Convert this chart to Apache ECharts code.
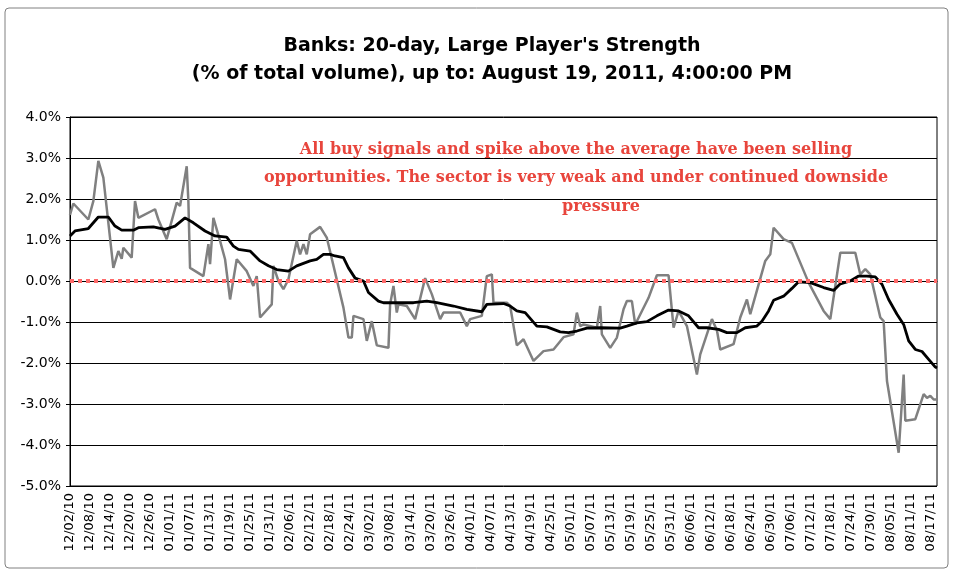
<!DOCTYPE html>
<html>
<head>
<meta charset="utf-8">
<script src="https://cdn.jsdelivr.net/npm/echarts@6/dist/echarts.min.js"></script>
<style>
  html, body { margin: 0; padding: 0; background: #fff; }
  #chart { width: 954px; height: 575px; }
</style>
</head>
<body>
<div id="chart"></div>
<script>
// x labels every 6 calendar days starting 12/02/10 (day 0)
const tickLabels = ['12/02/10', '12/08/10', '12/14/10', '12/20/10', '12/26/10', '01/01/11', '01/07/11',
  '01/13/11', '01/19/11', '01/25/11', '01/31/11', '02/06/11', '02/12/11', '02/18/11', '02/24/11',
  '03/02/11', '03/08/11', '03/14/11', '03/20/11', '03/26/11', '04/01/11', '04/07/11', '04/13/11',
  '04/19/11', '04/25/11', '05/01/11', '05/07/11', '05/13/11', '05/19/11', '05/25/11', '05/31/11',
  '06/06/11', '06/12/11', '06/18/11', '06/24/11', '06/30/11', '07/06/11', '07/12/11', '07/18/11',
  '07/24/11', '07/30/11', '08/05/11', '08/11/11', '08/17/11'];

// large player's strength (gray), day offset from 12/02/10 and % value
const playerDays = [0, 1, 5.5, 7, 8.5, 10, 13, 14.5, 15.5, 16, 18.5, 19.5, 20.5, 25.5, 26.5, 29, 32, 33, 35, 35.5,
  36, 40, 41.5, 42, 43, 45, 46.5, 48, 50, 53, 55, 56, 57, 60.5, 61, 62.5, 64, 65.5, 68, 69,
  70, 71, 72, 75, 77, 82, 83.5, 84.5, 85, 88, 89, 90.5, 92, 95.5, 96, 97, 98, 98.5, 101, 103.5,
  106.5, 108.5, 111, 112, 117, 119, 120, 123.5, 125, 126.5, 127, 131, 132, 134, 136, 139, 142, 145, 148, 151,
  152, 153, 154, 158, 159, 159.5, 162, 164, 166, 167, 168.5, 169.5, 173.5, 176, 179.5, 181, 182.5, 185, 188, 189,
  192.5, 194, 195, 199, 201, 203, 204, 208.5, 210, 211, 214, 216.5, 221.5, 226, 228, 231, 235.5, 237, 238.5, 240,
  243, 244, 245, 248.5, 250, 250.5, 253.5, 256, 257, 258, 259, 260];
const playerValues = [1.61, 1.89, 1.50, 1.95, 2.93, 2.52, 0.32, 0.73, 0.54, 0.81, 0.57, 1.95, 1.54, 1.75, 1.50, 1.02, 1.91, 1.83, 2.80, 1.95,
  0.32, 0.12, 0.90, 0.41, 1.54, 0.98, 0.53, -0.45, 0.53, 0.24, -0.12, 0.12, -0.89, -0.57, 0.37, 0.00, -0.20, 0.04, 0.98, 0.65,
  0.90, 0.65, 1.14, 1.32, 1.06, -0.65, -1.38, -1.38, -0.85, -0.93, -1.46, -0.98, -1.57, -1.63, -0.57, -0.12, -0.77, -0.57, -0.61, -0.93,
  0.07, -0.32, -0.93, -0.77, -0.77, -1.10, -0.93, -0.85, 0.12, 0.16, -0.53, -0.53, -0.61, -1.57, -1.42, -1.95, -1.71, -1.67, -1.37, -1.30,
  -0.77, -1.10, -1.06, -1.14, -0.61, -1.30, -1.63, -1.38, -0.69, -0.49, -0.49, -1.06, -0.41, 0.14, 0.14, -1.14, -0.73, -1.10, -2.28, -1.79,
  -0.93, -1.20, -1.67, -1.54, -0.89, -0.45, -0.81, 0.49, 0.65, 1.30, 1.02, 0.93, -0.04, -0.73, -0.93, 0.69, 0.69, 0.16, 0.29, 0.16,
  -0.89, -0.98, -2.44, -4.19, -2.28, -3.41, -3.37, -2.76, -2.85, -2.80, -2.89, -2.89];

// 20-day average (black)
const avgDays = [0, 1.5, 5.5, 8.5, 11.5, 13.5, 15.5, 19, 20.5, 25, 28.5, 31.5, 34.5, 37, 40.5, 43.5, 47, 49, 50.5, 54,
  57, 59.5, 62, 65.5, 68, 72, 74, 76, 78, 79.5, 82, 83.5, 85.5, 88, 89.5, 92.5, 94, 103, 107, 110,
  115, 119, 123.5, 125, 130, 132, 134, 136.5, 140, 143, 147, 149.5, 152, 155, 159, 165, 167, 170, 173, 176,
  179.5, 182.5, 185.5, 188.5, 191, 194.5, 197, 200, 202.5, 206, 207.5, 209.5, 211, 214, 216.5, 218.5, 222, 226, 229, 231,
  234, 236.5, 239, 241.5, 243.5, 245.5, 248, 250, 251.5, 253.5, 255.5, 257.5, 259.5, 260];
const avgValues = [1.10, 1.22, 1.28, 1.56, 1.56, 1.34, 1.24, 1.24, 1.30, 1.32, 1.26, 1.34, 1.54, 1.42, 1.22, 1.10, 1.07, 0.85, 0.77, 0.73,
  0.49, 0.37, 0.28, 0.24, 0.37, 0.49, 0.53, 0.65, 0.65, 0.61, 0.57, 0.32, 0.07, 0.00, -0.28, -0.49, -0.53, -0.53, -0.49, -0.53,
  -0.61, -0.69, -0.75, -0.57, -0.55, -0.61, -0.73, -0.77, -1.10, -1.12, -1.24, -1.26, -1.22, -1.15, -1.14, -1.15, -1.10, -1.02, -0.99, -0.85,
  -0.71, -0.73, -0.85, -1.14, -1.14, -1.18, -1.26, -1.26, -1.14, -1.10, -0.98, -0.73, -0.47, -0.37, -0.18, -0.02, -0.04, -0.16, -0.23, -0.07,
  0.00, 0.12, 0.12, 0.10, -0.08, -0.45, -0.81, -1.06, -1.46, -1.67, -1.72, -1.91, -2.10, -2.12];

const noteLines = [
  'All buy signals and spike above the average have been selling',
  'opportunities. The sector is very weak and under continued downside',
  'pressure'
];

const chart = echarts.init(document.getElementById('chart'));

const noteFont = 'bold 16px "DejaVu Serif"';

const option = {
  backgroundColor: '#fff',
  animation: false,
  title: {
    text: "Banks: 20-day, Large Player's Strength\n(% of total volume), up to: August 19, 2011, 4:00:00 PM",
    left: 487,
    top: 27,
    textAlign: 'center',
    textStyle: {
      fontFamily: 'DejaVu Sans',
      fontWeight: 'bold',
      fontSize: 19,
      lineHeight: 28,
      color: '#000'
    }
  },
  grid: {
    left: 70,
    right: 17,
    top: 117,
    bottom: 89,
    show: true,
    borderColor: '#000',
    borderWidth: 1
  },
  xAxis: {
    type: 'value',
    min: 0,
    max: 260,
    interval: 6,
    axisLine: { show: true, lineStyle: { color: '#000' } },
    axisTick: { show: false },
    splitLine: { show: false },
    axisLabel: {
      rotate: 90,
      margin: 7,
      fontFamily: 'DejaVu Sans',
      fontSize: 13,
      color: '#000',
      showMaxLabel: false,
      formatter: function (v) {
        const label = tickLabels[v / 6];
        return label === undefined ? '' : label;
      }
    }
  },
  yAxis: {
    type: 'value',
    min: -5,
    max: 4,
    interval: 1,
    axisLine: { show: true, lineStyle: { color: '#000' } },
    axisTick: { show: true, length: 4, lineStyle: { color: '#000' } },
    splitLine: { show: true, lineStyle: { color: '#000', width: 1 } },
    axisLabel: {
      margin: 9,
      fontFamily: 'DejaVu Sans',
      fontSize: 14,
      color: '#000',
      formatter: function (v) {
        return v.toFixed(1) + '%';
      }
    }
  },
  series: [
    {
      name: "Large Player's Strength",
      type: 'line',
      data: playerDays.map((d, i) => [d, playerValues[i]]),
      symbol: 'none',
      lineStyle: { color: '#808080', width: 2.5 },
      z: 3,
      markLine: {
        silent: true,
        symbol: 'none',
        label: { show: false },
        lineStyle: { color: '#ff6a6a', type: 'dotted', width: 4 },
        data: [{ yAxis: 0 }]
      }
    },
    {
      name: '20-day average',
      type: 'line',
      data: avgDays.map((d, i) => [d, avgValues[i]]),
      symbol: 'none',
      lineStyle: { color: '#000', width: 2.8 },
      z: 4
    }
  ],
  graphic: [
    {
      type: 'rect',
      shape: { x: 5, y: 8, width: 943, height: 560, r: 4 },
      style: { fill: 'none', stroke: '#808080', lineWidth: 1 },
      silent: true,
      z: -1
    },
    {
      type: 'text',
      x: 576, y: 150,
      style: { text: noteLines[0], textAlign: 'center', textVerticalAlign: 'middle', fill: '#e8453c', font: noteFont },
      z: 10
    },
    {
      type: 'text',
      x: 576, y: 178,
      style: { text: noteLines[1], textAlign: 'center', textVerticalAlign: 'middle', fill: '#e8453c', font: noteFont },
      z: 10
    },
    {
      type: 'text',
      x: 601, y: 207,
      style: { text: noteLines[2], textAlign: 'center', textVerticalAlign: 'middle', fill: '#e8453c', font: noteFont },
      z: 10
    }
  ]
};

chart.setOption(option);

window.addEventListener('resize', () => {
  chart.resize();
});
</script>
</body>
</html>
